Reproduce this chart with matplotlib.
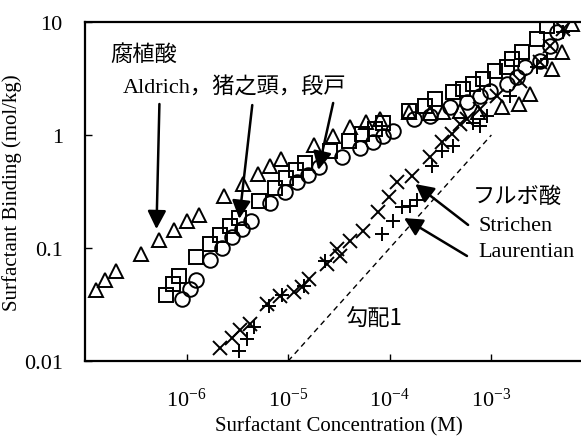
import matplotlib
matplotlib.use("Agg")
import matplotlib.pyplot as plt
from matplotlib.ticker import FixedLocator, FixedFormatter, NullLocator

# ---------------- data ----------------
# Humic acid - Aldrich (triangles)
aldrich_x = [1.27e-7, 1.58e-7, 2.03e-7, 3.52e-7, 5.41e-7, 7.46e-7, 1.01e-6, 1.32e-6,
             2.35e-6, 3.6e-6, 5.05e-6, 6.67e-6, 8.55e-6, 1.78e-5, 2.79e-5, 4.07e-5,
             5.86e-5, 7.94e-5, 1.53e-4, 2.51e-4, 3.37e-4, 4.92e-4, 7.45e-4, 1.26e-3,
             1.85e-3, 2.4e-3, 3.93e-3, 4.92e-3, 6.17e-3]
aldrich_y = [0.0428, 0.052, 0.062, 0.0885, 0.118, 0.144, 0.172, 0.197,
             0.286, 0.368, 0.452, 0.535, 0.614, 0.817, 0.986, 1.17,
             1.31, 1.39, 1.59, 1.55, 1.59, 1.64, 1.59, 1.76,
             1.88, 2.31, 3.84, 5.4, 9.6]

# Humic acid - Inokashira (squares)
inokashira_x = [6.32e-7, 7.29e-7, 8.51e-7, 1.25e-6, 1.71e-6, 2.15e-6, 2.65e-6, 3.25e-6,
                5.12e-6, 7.35e-6, 9.57e-6, 1.2e-5, 1.47e-5, 2.59e-5, 3.93e-5, 5.31e-5,
                7.19e-5, 8.67e-5, 1.53e-4, 2.23e-4, 2.8e-4, 4.23e-4, 5.31e-4, 6.65e-4,
                8.34e-4, 1.09e-3, 1.42e-3, 1.58e-3, 1.99e-3, 2.79e-3, 3.51e-3]
inokashira_y = [0.0384, 0.048, 0.056, 0.0828, 0.108, 0.131, 0.157, 0.183,
                0.259, 0.337, 0.414, 0.493, 0.565, 0.726, 0.89, 1.02,
                1.13, 1.29, 1.64, 1.82, 2.08, 2.39, 2.55, 2.82,
                3.13, 3.71, 3.97, 4.71, 5.4, 7.08, 9.27]

# Humic acid - Dando (circles)
dando_x = [9.04e-7, 1.07e-6, 1.25e-6, 1.69e-6, 2.23e-6, 2.8e-6, 3.51e-6, 4.31e-6,
           6.56e-6, 9.35e-6, 1.22e-5, 1.57e-5, 1.99e-5, 3.38e-5, 5.12e-5, 6.82e-5,
           8.55e-5, 1.07e-4, 1.74e-4, 2.49e-4, 3.92e-4, 5.73e-4, 7.73e-4, 9.7e-4,
           1.42e-3, 1.77e-3, 2.14e-3, 3.01e-3, 3.78e-3, 4.4e-3]
dando_y = [0.0354, 0.0434, 0.052, 0.0787, 0.101, 0.124, 0.147, 0.172,
           0.249, 0.311, 0.381, 0.442, 0.518, 0.635, 0.762, 0.861,
           0.987, 1.09, 1.39, 1.48, 1.76, 1.95, 2.23, 2.47,
           2.83, 3.24, 3.97, 4.55, 6.17, 8.1]

# Fulvic acid - Strichen (x)
strichen_x = [2.15e-6, 2.8e-6, 3.38e-6, 4.24e-6, 6.18e-6, 8.36e-6, 1.13e-5, 1.36e-5,
              1.59e-5, 2.4e-5, 3.02e-5, 3.25e-5, 4.07e-5, 5.51e-5, 7.74e-5, 9.93e-5,
              1.17e-4, 1.65e-4, 2.49e-4, 3.25e-4, 4.07e-4, 4.92e-4, 5.73e-4, 7.73e-4,
              1.13e-3, 1.91e-3, 3.01e-3, 3.78e-3, 5.1e-3]
strichen_y = [0.013, 0.0159, 0.0188, 0.0212, 0.0319, 0.0378, 0.0405, 0.0449,
              0.0532, 0.0722, 0.098, 0.0855, 0.116, 0.142, 0.207, 0.281,
              0.381, 0.437, 0.635, 0.861, 1.02, 1.25, 1.39, 1.70,
              2.23, 3.03, 4.4, 6.17, 8.67]

# Fulvic acid - Laurentian (+)
laurentian_x = [3.25e-6, 3.93e-6, 4.57e-6, 6.41e-6, 8.69e-6, 1.42e-5, 2.32e-5, 8.36e-5,
                1.07e-4, 1.32e-4, 1.58e-4, 1.87e-4, 2.59e-4, 3.25e-4, 4.23e-4, 6.65e-4,
                7.73e-4, 8.99e-4, 1.52e-3, 2.79e-3, 3.51e-3, 5.1e-3]
laurentian_y = [0.0123, 0.0157, 0.0199, 0.0305, 0.0387, 0.0464, 0.0773, 0.133,
                0.175, 0.229, 0.236, 0.267, 0.535, 0.726, 0.803, 1.29,
                1.21, 1.48, 2.23, 3.97, 4.71, 8.1]

# slope-1 guide line
slope_x = [1e-5, 1e-3]
slope_y = [0.01, 1.0]

x_ticks = [1e-6, 1e-5, 1e-4, 1e-3]
x_ticklabels = [r'$\mathregular{10^{-6}}$', r'$\mathregular{10^{-5}}$',
                r'$\mathregular{10^{-4}}$', r'$\mathregular{10^{-3}}$']
y_ticks = [0.01, 0.1, 1, 10]
y_ticklabels = ['0.01', '0.1', '1', '10']

# ---------------- style ----------------
plt.rcParams['font.family'] = ['Liberation Serif', 'Noto Sans CJK JP', 'DejaVu Sans']
plt.rcParams['mathtext.fontset'] = 'custom'
plt.rcParams['mathtext.rm'] = 'Liberation Serif'
plt.rcParams['mathtext.it'] = 'Liberation Serif:italic'

fig = plt.figure(figsize=(5.81, 4.39), dpi=100)
ax = fig.add_axes([85 / 581, 1 - 362 / 439, 1 - 85 / 581, (362 - 23) / 439])
ax.set_xscale('log')
ax.set_yscale('log')
ax.set_xlim(1e-7, 10 ** (-7 + 496.5 / 101.7))
ax.set_ylim(0.01, 10)

mk = dict(linestyle='none', color='black', mfc='none', mew=1.4)
ax.plot(slope_x, slope_y, linestyle=(0, (4, 3)), color='black', lw=1.0)
ax.plot(aldrich_x, aldrich_y, marker='^', ms=10.5, **mk)
ax.plot(inokashira_x, inokashira_y, marker='s', ms=9.5, **mk)
ax.plot(dando_x, dando_y, marker='o', ms=10.5, **mk)
ax.plot(strichen_x, strichen_y, marker='x', ms=9.5, **mk)
ax.plot(laurentian_x, laurentian_y, marker='+', ms=10.5, **mk)

for s in ['left', 'bottom', 'top']:
    ax.spines[s].set_linewidth(1.6)
ax.spines['right'].set_visible(False)

ax.xaxis.set_major_locator(FixedLocator(x_ticks))
ax.xaxis.set_major_formatter(FixedFormatter(x_ticklabels))
ax.xaxis.set_minor_locator(NullLocator())
ax.yaxis.set_major_locator(FixedLocator(y_ticks))
ax.yaxis.set_major_formatter(FixedFormatter(y_ticklabels))
ax.yaxis.set_minor_locator(NullLocator())
ax.tick_params(axis='x', direction='in', length=5, width=1.0, labelsize=16, pad=19)
ax.tick_params(axis='y', direction='in', length=5, width=1.0, labelsize=16, pad=16)
ax.tick_params(top=False, right=False)

ax.set_xlabel('Surfactant Concentration (M)', fontsize=15)
ax.xaxis.set_label_coords(0.512, -0.163)
ax.set_ylabel('Surfactant Binding (mol/kg)', fontsize=15)
ax.yaxis.set_label_coords(-63 / 496, 0.5)

# ---------------- annotations ----------------
txt = dict(fontsize=16, va='center', ha='left', color='black')
ax.text(1.78e-7, 5.3, '腐植酸', family=['Noto Sans CJK JP'], **txt)
ax.text(2.34e-7, 2.66, 'Aldrich，猪之頭，段戸',
        family=['Liberation Serif', 'Noto Sans CJK JP'], **txt)
ax.text(6.6e-4, 0.294, 'フルボ酸', family=['Noto Sans CJK JP'], **txt)
ax.text(7.4e-4, 0.157, 'Strichen', **txt)
ax.text(7.4e-4, 0.0923, 'Laurentian', **txt)
ax.text(3.64e-5, 0.0236, '勾配1', family=['Noto Sans CJK JP', 'Liberation Serif'], **txt)

arrow = dict(arrowstyle='-|>,head_length=0.55,head_width=0.28', color='black',
             lw=1.8, shrinkA=0, shrinkB=0, mutation_scale=20)
ax.annotate('', xy=(5.05e-7, 0.147), xytext=(5.4e-7, 1.88), arrowprops=arrow)
ax.annotate('', xy=(3.3e-6, 0.181), xytext=(4.43e-6, 1.84), arrowprops=arrow)
ax.annotate('', xy=(1.98e-5, 0.49), xytext=(2.77e-5, 1.92), arrowprops=arrow)
ax.annotate('', xy=(1.78e-4, 0.368), xytext=(5.9e-4, 0.16), arrowprops=arrow)
ax.annotate('', xy=(1.38e-4, 0.184), xytext=(5.75e-4, 0.085), arrowprops=arrow)

fig.savefig('out.png', dpi=100)
